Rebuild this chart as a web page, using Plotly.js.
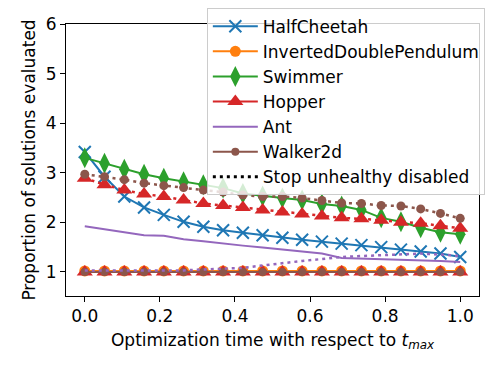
<!DOCTYPE html>
<html>
<head>
<meta charset="utf-8">
<script src="https://cdn.plot.ly/plotly-3.0.1.min.js"></script>
<style>
  html, body { margin: 0; padding: 0; background: #fff; }
  #chart { width: 498px; height: 374px; }
</style>
</head>
<body>
<div id="chart"></div>
<script>
// time fraction of t_max (20 checkpoints)
let timeSteps = [0, 0.0526, 0.1053, 0.1579, 0.2105, 0.2632, 0.3158, 0.3684, 0.4211, 0.4737,
                 0.5263, 0.5789, 0.6316, 0.6842, 0.7368, 0.7895, 0.8421, 0.8947, 0.9474, 1.0];

// solid lines (stop unhealthy enabled)
let halfCheetah = [3.42, 2.92, 2.52, 2.30, 2.15, 2.01, 1.91, 1.84, 1.79, 1.74,
                   1.69, 1.65, 1.61, 1.57, 1.54, 1.50, 1.45, 1.41, 1.37, 1.30];
let invDoublePend = [1.02, 1.02, 1.02, 1.02, 1.02, 1.02, 1.02, 1.02, 1.02, 1.02,
                     1.02, 1.02, 1.02, 1.02, 1.02, 1.02, 1.02, 1.02, 1.02, 1.02];
let swimmer = [3.30, 3.19, 3.07, 2.97, 2.89, 2.82, 2.76, 2.69, 2.58, 2.53,
               2.49, 2.45, 2.37, 2.33, 2.25, 2.09, 2.01, 1.89, 1.80, 1.76];
let hopper = [1.0, 1.0, 1.0, 1.0, 1.0, 1.0, 1.0, 1.0, 1.0, 1.0,
              1.0, 1.0, 1.0, 1.0, 1.0, 1.0, 1.0, 1.0, 1.0, 1.0];
let ant = [1.92, 1.86, 1.80, 1.74, 1.73, 1.66, 1.62, 1.57, 1.53, 1.49,
           1.45, 1.41, 1.37, 1.28, 1.27, 1.26, 1.25, 1.24, 1.22, 1.20];
let walker2d = [1.0, 1.0, 1.0, 1.0, 1.0, 1.0, 1.0, 1.0, 1.0, 1.0,
                1.0, 1.0, 1.0, 1.0, 1.0, 1.0, 1.0, 1.0, 1.0, 1.0];

// dotted lines (stop unhealthy disabled)
let hopperNoStop = [2.89, 2.76, 2.65, 2.57, 2.52, 2.45, 2.38, 2.34, 2.30, 2.25,
                    2.21, 2.17, 2.13, 2.09, 2.07, 2.04, 2.00, 1.98, 1.93, 1.88];
let antNoStop = [1.03, 1.03, 1.03, 1.03, 1.03, 1.03, 1.05, 1.06, 1.08, 1.13,
                 1.18, 1.22, 1.26, 1.30, 1.32, 1.34, 1.36, 1.37, 1.35, 1.32];
let walkerNoStop = [2.97, 2.92, 2.86, 2.79, 2.74, 2.70, 2.65, 2.61, 2.55, 2.52,
                    2.52, 2.49, 2.44, 2.39, 2.38, 2.34, 2.33, 2.27, 2.18, 2.08];

let xTicks = [0, 0.2, 0.4, 0.6, 0.8, 1.0];
let xTickText = ['0.0', '0.2', '0.4', '0.6', '0.8', '1.0'];
let yTicks = [1, 2, 3, 4, 5, 6];

const C = {
    blue: '#1f77b4', orange: '#ff7f0e', green: '#2ca02c',
    red: '#d62728', purple: '#9467bd', brown: '#8c564b'
};
const dotDash = '3px,4px';
const FS = 17;

function solid(name, y, color, marker) {
    let trace = {
        type: 'scatter', mode: marker ? 'lines+markers' : 'lines',
        name: name, x: timeSteps, y: y,
        line: {color: color, width: 2}
    };
    if (marker) trace.marker = marker;
    return trace;
}

function dotted(y, color, marker) {
    let trace = {
        type: 'scatter', mode: marker ? 'lines+markers' : 'lines',
        x: timeSteps, y: y, showlegend: false,
        line: {color: color, width: 2.5, dash: dotDash}
    };
    if (marker) trace.marker = marker;
    return trace;
}

let data = [
    solid('HalfCheetah', halfCheetah, C.blue,
          {symbol: 'x-thin', size: 12, color: C.blue, line: {color: C.blue, width: 2}}),
    solid('InvertedDoublePendulum', invDoublePend, C.orange,
          {symbol: 'circle', size: 11, color: C.orange}),
    solid('Swimmer', swimmer, C.green,
          {symbol: 'diamond-tall', size: 15, color: C.green}),
    solid('Hopper', hopper, C.red,
          {symbol: 'triangle-up', size: 14, color: C.red}),
    solid('Ant', ant, C.purple, null),
    solid('Walker2d', walker2d, C.brown,
          {symbol: 'circle', size: 8, color: C.brown}),
    dotted(hopperNoStop, C.red, {symbol: 'triangle-up', size: 14, color: C.red}),
    dotted(antNoStop, C.purple, null),
    dotted(walkerNoStop, C.brown, {symbol: 'circle', size: 9, color: C.brown}),
    {type: 'scatter', mode: 'lines', x: [null], y: [null],
     name: 'Stop unhealthy disabled',
     line: {color: '#000', width: 3, dash: dotDash}}
];

let axisCommon = {
    showline: true, mirror: true, linecolor: '#000', linewidth: 1,
    ticks: 'outside', ticklen: 5, tickwidth: 1, tickcolor: '#000',
    showgrid: false, zeroline: false,
    tickfont: {size: FS, color: '#000'}
};

let layout = {
    width: 498, height: 374,
    margin: {l: 66, r: 19, t: 24, b: 78, autoexpand: false},
    paper_bgcolor: '#fff', plot_bgcolor: '#fff',
    font: {family: 'DejaVu Sans', size: FS, color: '#000'},
    xaxis: Object.assign({}, axisCommon, {
        range: [-0.05, 1.05], tickvals: xTicks, ticktext: xTickText,
        title: {text: 'Optimization time with respect to <i>t</i><sub><i>max</i></sub>',
                font: {size: FS}, standoff: 8}
    }),
    yaxis: Object.assign({}, axisCommon, {
        range: [0.514, 6.0], tickvals: yTicks,
        title: {text: 'Proportion of solutions evaluated', font: {size: FS}, standoff: 5}
    }),
    legend: {
        x: 0.341, y: 1.06, xanchor: 'left', yanchor: 'top',
        bgcolor: 'rgba(255,255,255,0.8)', bordercolor: '#cccccc', borderwidth: 1,
        font: {size: FS}, itemwidth: 45
    },
    showlegend: true
};

Plotly.newPlot('chart', data, layout, {displayModeBar: false, staticPlot: true});
</script>
</body>
</html>
